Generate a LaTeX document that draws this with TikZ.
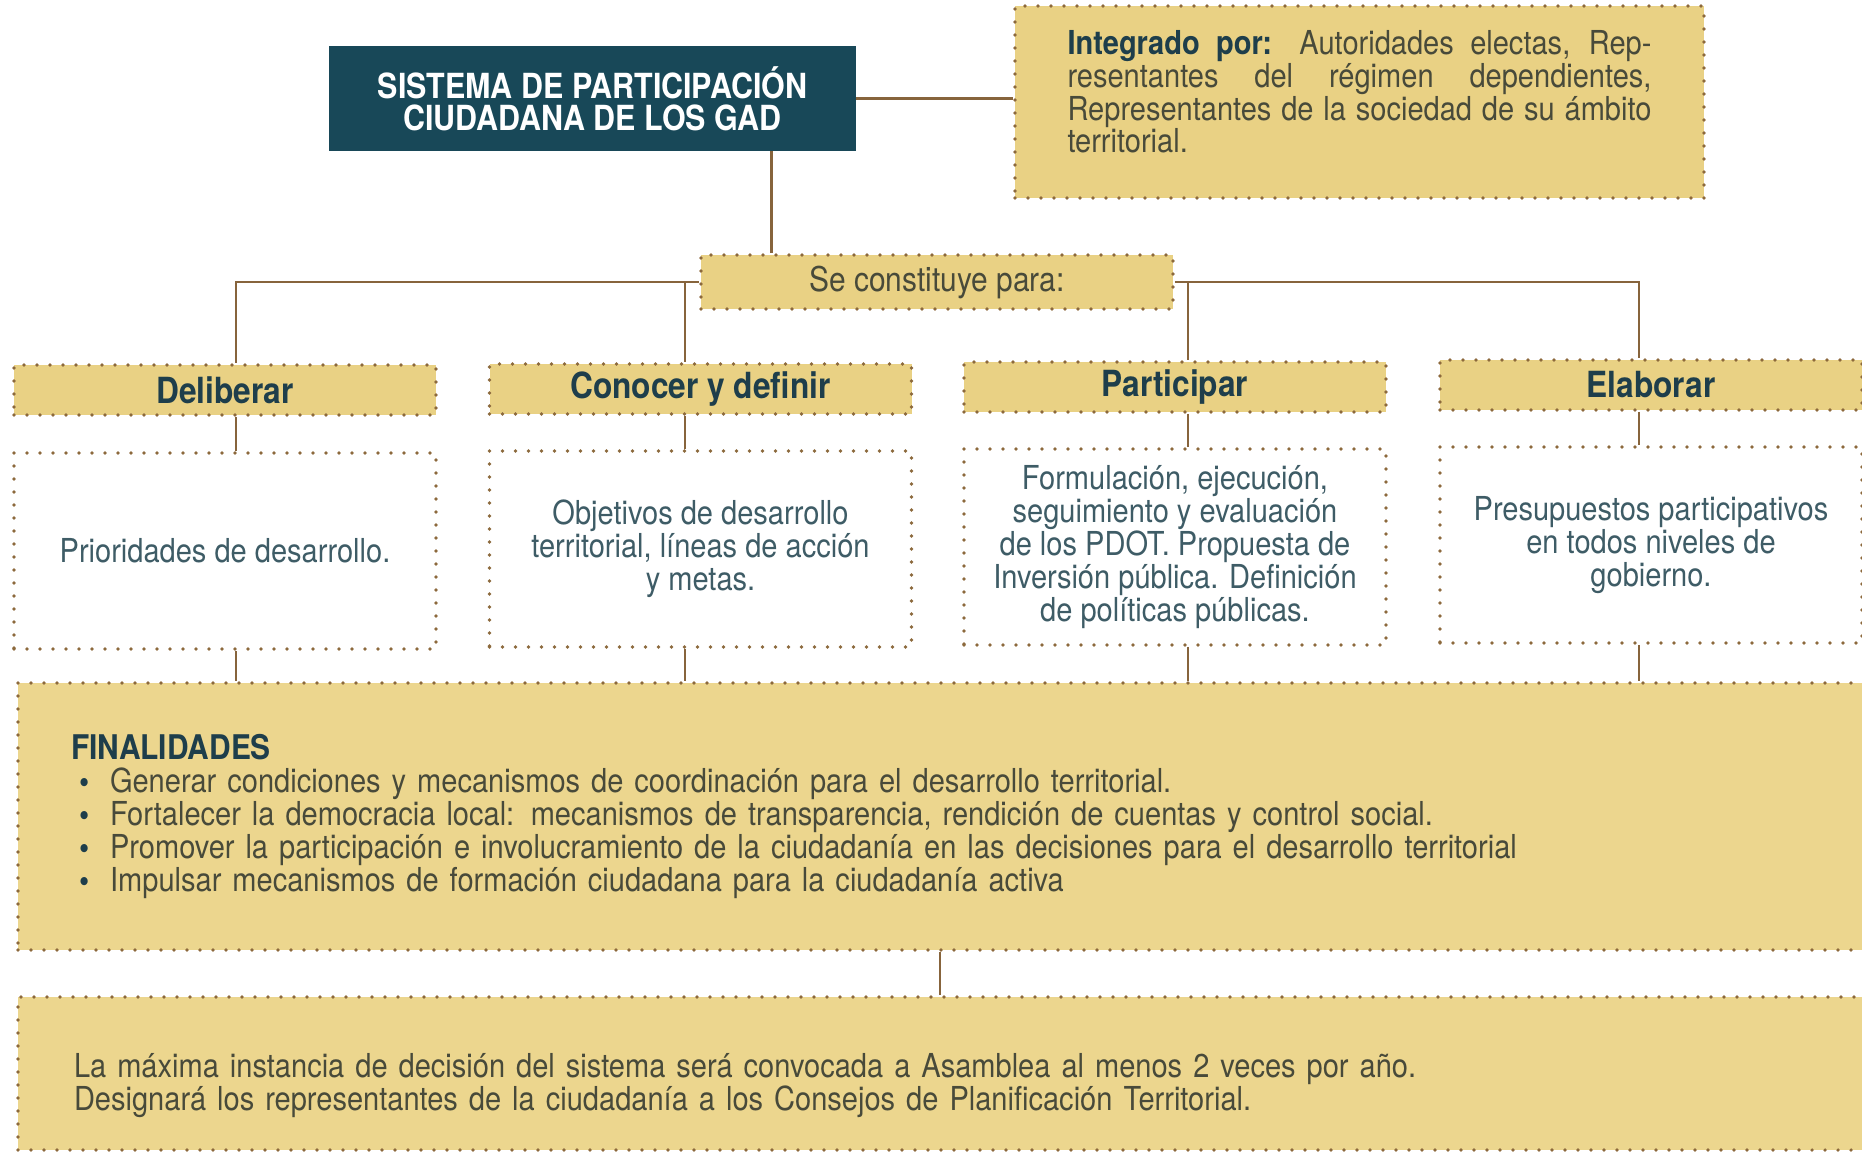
\documentclass[tikz,border=0pt]{standalone}
\usepackage{fontspec}
\setmainfont{TeX Gyre Heros}[FakeStretch=0.88]
\usetikzlibrary{calc}
\definecolor{cTan}{RGB}{233,209,132}
\definecolor{cTanL}{RGB}{236,214,142}
\definecolor{cDot}{RGB}{140,105,60}
\definecolor{cLine}{RGB}{135,100,60}
\definecolor{cTitle}{RGB}{24,72,88}
\definecolor{cHead}{RGB}{30,62,75}
\definecolor{cBody}{RGB}{72,74,58}
\definecolor{cCont}{RGB}{62,92,102}
\newcommand{\bul}{\hspace*{4pt}\makebox[15.5pt][l]{\textcolor{cHead}{\bfseries\textbullet}}}
\tikzset{
  dotbox/.style={draw=cDot, line width=1.8pt, dash pattern=on 0pt off 6.5pt, line cap=round},
  tanbox/.style={dotbox, fill=cTan},
  whitebox/.style={dotbox, fill=white},
  conn/.style={draw=cLine, line width=1.1pt},
  titlebox/.style={fill=cTitle, minimum width=263.5pt, minimum height=52.5pt, text=white,
    font=\bfseries\fontsize{17.3}{16}\selectfont, align=center},
  hdr/.style={tanbox, minimum width=211pt, minimum height=25pt, text=cHead,
    font=\bfseries\fontsize{18}{18}\selectfont},
  cnt/.style={whitebox, minimum width=211pt, minimum height=98pt, align=center, text=cCont,
    font=\fontsize{16.5}{16.5}\selectfont},
}
\begin{document}
\begin{tikzpicture}[x=0.5pt,y=-0.5pt]
\useasboundingbox (0,0) rectangle (1862,1158);
\fill[white] (0,0) rectangle (1862,1158);

% title and composition
\node[titlebox] (title) at (592.5,98.5) {SISTEMA DE PARTICIPACIÓN\\CIUDADANA DE LOS GAD};
\node[tanbox, minimum width=344.5pt, minimum height=96pt, text=cBody,
  font=\fontsize{16.5}{16.4}\selectfont, align=left] (integ) at (1359.5,102)
  {\makebox[292pt][s]{\textcolor{cHead}{\bfseries Integrado por:} Autoridades electas, Rep-}\\
   \makebox[292pt][s]{resentantes del régimen dependientes,}\\
   \makebox[292pt][s]{Representantes de la sociedad de su ámbito}\\
   territorial.\\[-6pt]\mbox{}};

\node[tanbox, minimum width=236pt, minimum height=27pt, text=cBody,
  font=\fontsize{17}{17}\selectfont] (secon) at (937,282) {Se constituye para:};

% headers
\node[hdr] (h1) at (225,390) {Deliberar};
\node[hdr] (h2) at (700.5,389) {Conocer y definir};
\node[hdr] (h3) at (1175,387) {Participar};
\node[hdr] (h4) at (1651,385) {Elaborar};

% contents
\node[cnt] (c1) at (225,551) {Prioridades de desarrollo.};
\node[cnt] (c2) at (700.5,549) {Objetivos de desarrollo\\territorial, líneas de acción\\y metas.};
\node[cnt] (c3) at (1175,547) {Formulación, ejecución,\\seguimiento y evaluación\\de los PDOT. Propuesta de\\Inversión pública. Definición\\de políticas públicas.};
\node[cnt] (c4) at (1651,545) {Presupuestos participativos\\en todos niveles de\\gobierno.};

% finalidades
\node[tanbox, fill=cTanL, minimum width=931pt, minimum height=133.5pt, inner xsep=26.5pt,
  text width=878pt, align=left, text=cBody, font=\fontsize{16.5}{16.4}\selectfont]
  (fin) at (949,816.5)
  {{\color{cHead}\bfseries\fontsize{17}{16.4}\selectfont FINALIDADES}\\
   \bul Generar condiciones y mecanismos de coordinación para el desarrollo territorial.\\
   \bul Fortalecer la democracia local: mecanismos de transparencia, rendición de cuentas y control social.\\
   \bul Promover la participación e involucramiento de la ciudadanía en las decisiones para el desarrollo territorial\\
   \bul Impulsar mecanismos de formación ciudadana para la ciudadanía activa};

\node[tanbox, fill=cTanL, minimum width=931pt, minimum height=76.5pt, inner xsep=28pt,
  text width=875pt, align=left, text=cBody, font=\fontsize{16.5}{16.4}\selectfont]
  (bot) at (949,1073.5)
  {\rule{0pt}{24pt}La máxima instancia de decisión del sistema será convocada a Asamblea al menos 2 veces por año.\\
   Designará los representantes de la ciudadanía a los Consejos de Planificación Territorial.};

% connectors
\coordinate (tv) at ($(title.south west)!0.839!(title.south east)$);
\coordinate (b1) at (236,282);
\coordinate (b2) at (685,282);
\coordinate (b3) at (1188,282);
\coordinate (b4) at (1639,282);
\coordinate (fv) at (940,950);

\draw[conn] (title.east) -- (integ.west |- title.east);
\draw[conn] (tv) -- (tv |- secon.north);
\draw[conn] (secon.west) -- (b1) -- (b1 |- h1.north);
\draw[conn] (b2) -- (b2 |- h2.north);
\draw[conn] (secon.east) -- (b4) -- (b4 |- h4.north);
\draw[conn] (b3) -- (b3 |- h3.north);
\foreach \i in {1,2,3,4}{
  \draw[conn] (b\i |- h\i.south) -- (b\i |- c\i.north);
  \draw[conn] (b\i |- c\i.south) -- (b\i |- fin.north);
}
\draw[conn] (fv |- fin.south) -- (fv |- bot.north);
\end{tikzpicture}
\end{document}
